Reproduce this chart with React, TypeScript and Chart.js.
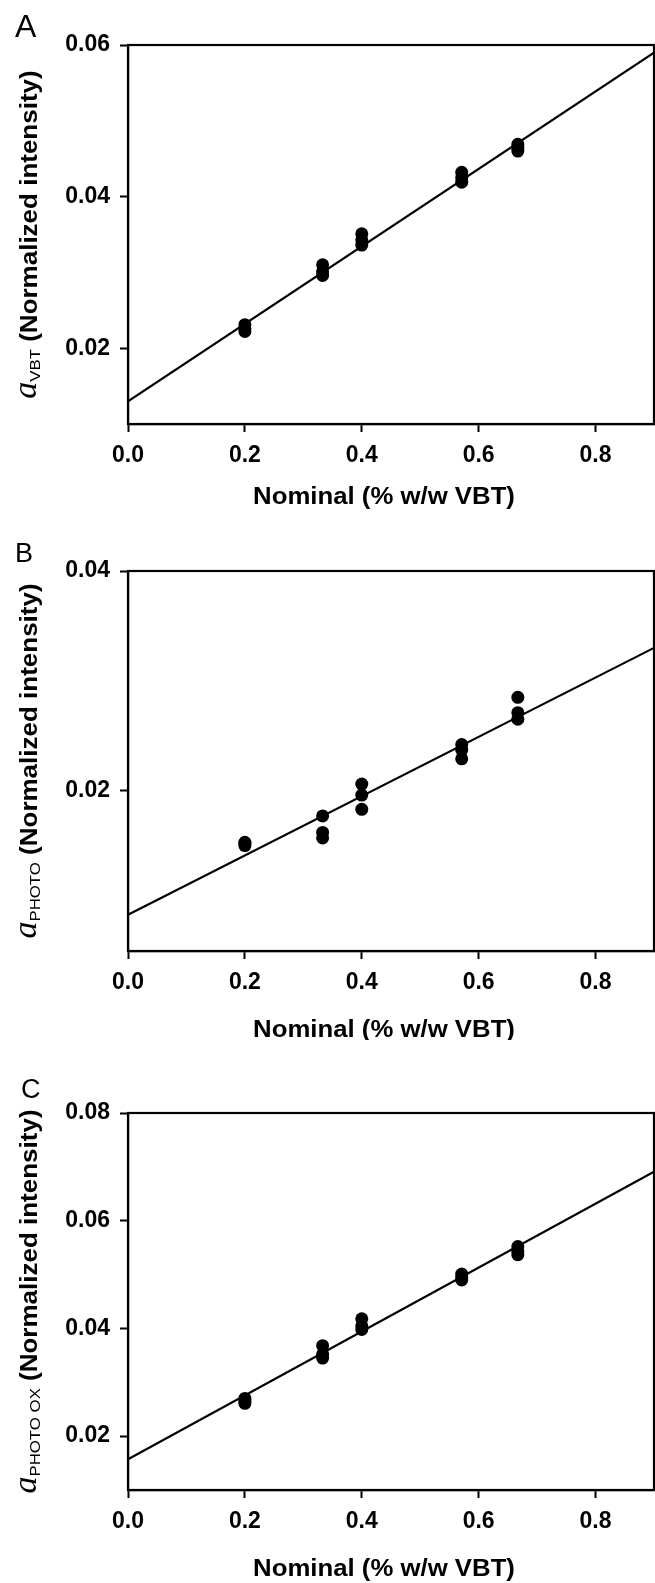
import React, { useEffect, useRef } from "react";
import { Chart, registerables } from "chart.js";

Chart.register(...registerables);

// ---------- shared x data ----------
const nominalLevels = [0.2, 0.333, 0.4, 0.571, 0.667];
const xTickValues = [0, 0.2, 0.4, 0.6, 0.8];
const xAxisRange = [0, 0.9];
const xAxisTitle = "Nominal (% w/w VBT)";

// ---------- panel A : a_VBT ----------
const vbtReplicates = [
  [0.0222, 0.0226, 0.0231],
  [0.0296, 0.0301, 0.031],
  [0.0336, 0.0343, 0.0351],
  [0.0419, 0.0425, 0.0432],
  [0.046, 0.0464, 0.0469],
];
const vbtFit = [0.013, 0.059]; // fitted values at x = 0 and x = 0.9
const vbtYRange = [0.01, 0.06];
const vbtYTicks = [0.02, 0.04, 0.06];

// ---------- panel B : a_PHOTO ----------
const photoReplicates = [
  [0.015, 0.0152, 0.0153],
  [0.0157, 0.0162, 0.0177],
  [0.0183, 0.0196, 0.0206],
  [0.0229, 0.0237, 0.0242],
  [0.0265, 0.0271, 0.0285],
];
const photoFit = [0.0087, 0.033];
const photoYRange = [0.0054, 0.04];
const photoYTicks = [0.02, 0.04];

// ---------- panel C : a_PHOTO OX ----------
const photoOxReplicates = [
  [0.0261, 0.0265, 0.027],
  [0.0345, 0.0352, 0.0368],
  [0.0398, 0.0405, 0.0418],
  [0.049, 0.0495, 0.0501],
  [0.0537, 0.0543, 0.0552],
];
const photoOxFit = [0.0157, 0.0691];
const photoOxYRange = [0.01, 0.08];
const photoOxYTicks = [0.02, 0.04, 0.06, 0.08];

// ---------- layout (positions only) ----------
const SANS = '"Liberation Sans", Arial, Helvetica, sans-serif';
const SERIF = '"Liberation Serif", "Times New Roman", serif';
const PLOT_LEFT = 128;
const CANVAS_W = 655;

const panels = [
  {
    letter: "A", sub: "VBT", replicates: vbtReplicates, fit: vbtFit, yRange: vbtYRange, yTicks: vbtYTicks,
    canvasTop: 0, canvasHeight: 520, areaTop: 45, areaBottom: 424, titleOffset: 74,
    letterX: 15, letterY: 37, letterSize: 32,
  },
  {
    letter: "B", sub: "PHOTO", replicates: photoReplicates, fit: photoFit, yRange: photoYRange, yTicks: photoYTicks,
    canvasTop: 520, canvasHeight: 520, areaTop: 51, areaBottom: 431, titleOffset: 80,
    letterX: 15, letterY: 42, letterSize: 27,
  },
  {
    letter: "C", sub: "PHOTO OX", replicates: photoOxReplicates, fit: photoOxFit, yRange: photoOxYRange, yTicks: photoOxYTicks,
    canvasTop: 1040, canvasHeight: 543, areaTop: 73, areaBottom: 450, titleOffset: 80,
    letterX: 21, letterY: 58, letterSize: 27,
  },
];

const decorPlugin = {
  id: "decor",
  afterDraw(chart: any, _args: any, opts: any) {
    const { ctx, chartArea } = chart;
    const { left, right, top, bottom } = chartArea;
    ctx.save();
    // frame
    ctx.strokeStyle = "#000";
    ctx.lineWidth = 2.2;
    ctx.strokeRect(left, top, right - left, bottom - top);
    ctx.fillStyle = "#000";

    // x-axis title
    ctx.save();
    ctx.font = `bold 23px ${SANS}`;
    ctx.textAlign = "center";
    ctx.textBaseline = "middle";
    ctx.translate(384, bottom + opts.titleOffset);
    ctx.scale(1.12, 1);
    ctx.fillText(xAxisTitle, 0, 0);
    ctx.restore();

    // y-axis title (rich text, rotated)
    const segs = [
      { text: "a", font: `italic 34px ${SERIF}`, dy: -1, sx: 1 },
      { text: opts.sub, font: `15px ${SANS}`, dy: 3, sx: 1.12 },
      { text: " (Normalized intensity)", font: `bold 23px ${SANS}`, dy: 0, sx: 1.13 },
    ];
    let total = 0;
    const widths = segs.map((s) => {
      ctx.font = s.font;
      const w = ctx.measureText(s.text).width * s.sx;
      total += w;
      return w;
    });
    ctx.save();
    ctx.translate(37, (top + bottom) / 2);
    ctx.rotate(-Math.PI / 2);
    ctx.textAlign = "left";
    ctx.textBaseline = "alphabetic";
    let x = -total / 2;
    segs.forEach((s, i) => {
      ctx.save();
      ctx.font = s.font;
      ctx.translate(x, s.dy);
      ctx.scale(s.sx, 1);
      ctx.fillText(s.text, 0, 0);
      ctx.restore();
      x += widths[i];
    });
    ctx.restore();

    // panel letter
    ctx.font = `${opts.letterSize}px ${SANS}`;
    ctx.textAlign = "left";
    ctx.textBaseline = "alphabetic";
    ctx.fillText(opts.letter, opts.letterX, opts.letterY);
    ctx.restore();
  },
};

function Panel({ cfg }: { cfg: any }) {
  const ref = useRef<HTMLCanvasElement>(null);
  useEffect(() => {
    const canvas = ref.current!;
    const points = nominalLevels.flatMap((x, i) => cfg.replicates[i].map((y: number) => ({ x, y })));
    const fitLine = xAxisRange.map((x, i) => ({ x, y: cfg.fit[i] }));
    const tickFont = { family: SANS, size: 23, weight: "bold" as const };
    const chart = new Chart(canvas, {
      type: "scatter",
      data: {
        datasets: [
          {
            type: "line",
            data: fitLine,
            borderColor: "#000",
            borderWidth: 2.2,
            pointRadius: 0,
            fill: false,
          } as any,
          {
            type: "scatter",
            data: points,
            backgroundColor: "#000",
            borderColor: "#000",
            borderWidth: 0,
            pointRadius: 6.5,
          },
        ],
      },
      options: {
        responsive: false,
        animation: false,
        devicePixelRatio: 1,
        layout: { autoPadding: false, padding: { top: cfg.areaTop, left: 0, right: 1, bottom: 0 } },
        plugins: {
          legend: { display: false },
          tooltip: { enabled: false },
          decor: {
            sub: cfg.sub,
            letter: cfg.letter,
            letterX: cfg.letterX,
            letterY: cfg.letterY,
            letterSize: cfg.letterSize,
            titleOffset: cfg.titleOffset,
          },
        } as any,
        scales: {
          x: {
            type: "linear",
            min: xAxisRange[0],
            max: xAxisRange[1],
            afterBuildTicks: (s: any) => {
              s.ticks = xTickValues.map((v) => ({ value: v }));
            },
            afterFit: (s: any) => {
              s.height = cfg.canvasHeight - cfg.areaBottom;
              s.paddingLeft = 0;
              s.paddingRight = 0;
            },
            grid: { drawOnChartArea: false, drawTicks: true, tickLength: 8, tickWidth: 2, tickColor: "#000" },
            border: { display: true, color: "#000", width: 2.2 },
            ticks: {
              color: "#000",
              font: tickFont,
              padding: 10,
              maxRotation: 0,
              autoSkip: false,
              callback: (v: any) => Number(v).toFixed(1),
            },
          },
          y: {
            type: "linear",
            min: cfg.yRange[0],
            max: cfg.yRange[1],
            afterBuildTicks: (s: any) => {
              s.ticks = cfg.yTicks.map((v: number) => ({ value: v }));
            },
            afterFit: (s: any) => {
              s.width = PLOT_LEFT;
              s.paddingTop = 0;
              s.paddingBottom = 0;
            },
            grid: { drawOnChartArea: false, drawTicks: true, tickLength: 8, tickWidth: 2, tickColor: "#000" },
            border: { display: true, color: "#000", width: 2.2 },
            ticks: {
              color: "#000",
              font: tickFont,
              padding: 10,
              autoSkip: false,
              callback: (v: any) => Number(v).toFixed(2),
            },
          },
        },
      },
      plugins: [decorPlugin],
    });
    return () => chart.destroy();
  }, [cfg]);
  return (
    <canvas
      ref={ref}
      width={CANVAS_W}
      height={cfg.canvasHeight}
      style={{ position: "absolute", left: 0, top: cfg.canvasTop, width: CANVAS_W, height: cfg.canvasHeight }}
    />
  );
}

export default function App() {
  return (
    <div style={{ position: "absolute", left: 0, top: 0, width: CANVAS_W, height: 1583, background: "#fff" }}>
      {panels.map((p) => (
        <Panel key={p.letter} cfg={p} />
      ))}
    </div>
  );
}
